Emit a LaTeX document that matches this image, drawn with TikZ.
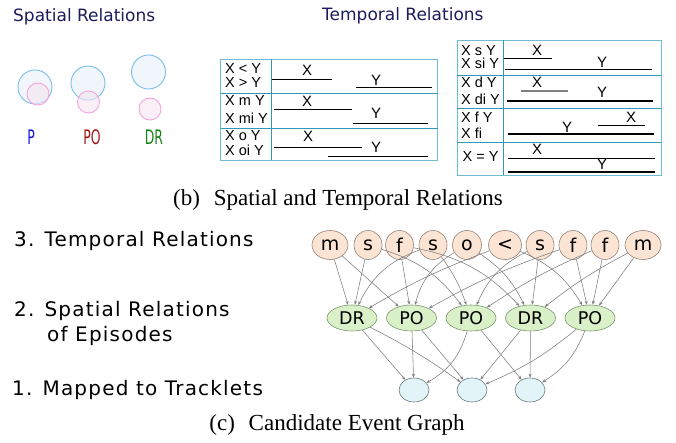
\documentclass[tikz,border=0pt]{standalone}
\usepackage{fontspec}
\usetikzlibrary{arrows.meta,shapes.geometric}
\newfontfamily\dvfont{DejaVu Sans}
\newfontfamily\dvspaced[LetterSpace=6]{DejaVu Sans}
\newfontfamily\libfont{Liberation Sans}
\newfontfamily\serffont{Liberation Serif}
\definecolor{navy}{RGB}{28,28,92}
\definecolor{bluecirc}{RGB}{120,190,235}
\definecolor{bluefill}{RGB}{240,246,251}
\definecolor{pinkcirc}{RGB}{245,165,220}
\definecolor{pinkfill}{RGB}{246,228,240}
\definecolor{tblline}{RGB}{110,190,210}
\definecolor{tbldiv}{RGB}{50,150,185}
\definecolor{peach}{RGB}{252,228,212}
\definecolor{peachline}{RGB}{150,130,120}
\definecolor{lgreen}{RGB}{218,240,200}
\definecolor{greenline}{RGB}{120,150,110}
\definecolor{lcyan}{RGB}{226,244,248}
\definecolor{cyanline}{RGB}{100,120,125}
\definecolor{edgegray}{RGB}{125,125,125}
\definecolor{prel}{RGB}{20,20,220}
\definecolor{porel}{RGB}{165,20,20}
\definecolor{drrel}{RGB}{20,130,20}
\begin{document}
\begin{tikzpicture}[x=1pt,y=1pt,
  titlestyle/.style={font=\dvfont\fontsize{17}{17}\selectfont, text=navy, inner sep=0, anchor=west},
  relstyle/.style={font=\dvfont\fontsize{20}{20}\selectfont, inner sep=0},
  bigcirc/.style={draw=bluecirc, fill=bluefill, line width=0.9pt},
  smallcirc/.style={draw=pinkcirc, fill=pinkfill, fill opacity=0.6, line width=0.9pt},
  tbox/.style={draw=tblline, line width=0.9pt},
  tdiv/.style={draw=tbldiv, line width=0.9pt},
  ttext/.style={font=\libfont\fontsize{14.5}{14.5}\selectfont, inner sep=0, anchor=west},
  tlab/.style={font=\libfont\fontsize{15}{15}\selectfont, inner sep=0},
  tline/.style={line width=1pt, black},
  tthick/.style={line width=1.5pt, black},
  capstyle/.style={font=\serffont\fontsize{23}{26}\selectfont, inner sep=0},
  sidelab/.style={font=\dvspaced\fontsize{20}{20}\selectfont, inner sep=0, anchor=west},
  topnode/.style={ellipse, draw=peachline, fill=peach, line width=0.6pt, minimum height=29, minimum width=28, inner sep=0, font=\dvfont\fontsize{19}{19}\selectfont},
  midnode/.style={ellipse, draw=greenline, fill=lgreen, line width=0.6pt, minimum height=26, minimum width=50, inner sep=0, font=\dvfont\fontsize{17.5}{17.5}\selectfont},
  botnode/.style={ellipse, draw=cyanline, fill=lcyan, line width=0.6pt, minimum height=24, minimum width=30, inner sep=0},
  edgeline/.style={draw=edgegray, line width=0.55pt, -{Stealth[length=4pt,width=3pt]}}
]
\useasboundingbox (0,0) rectangle (676,-443);

% ---- (b) Spatial relations ----
\node[titlestyle] (sptitle) at (13,-17) {Spatial Relations};
\node[titlestyle] (tptitle) at (322,-16) {Temporal Relations};

\draw[bigcirc] (35,-87) circle (17);
\draw[smallcirc] (38,-94) circle (11);
\draw[bigcirc] (88,-83) circle (17);
\draw[smallcirc] (88.5,-102) circle (11);
\draw[bigcirc] (148.5,-72) circle (17);
\draw[smallcirc] (150,-109) circle (11);

\node[relstyle, text=prel] (relP) at (31,-137) {\scalebox{0.62}[1]{P}};
\node[relstyle, text=porel] (relPO) at (92,-137) {\scalebox{0.62}[1]{PO}};
\node[relstyle, text=drrel] (relDR) at (154,-137) {\scalebox{0.62}[1]{DR}};

% ---- (b) Temporal relations, left table ----
\draw[tbox] (220.5,-59.5) rectangle (437.5,-160.5);
\draw[tdiv] (220.5,-93.5) -- (437.5,-93.5);
\draw[tdiv] (220.5,-128.5) -- (437.5,-128.5);
\draw[tdiv] (271,-59.5) -- (271,-160.5);

\node[ttext] (l1a) at (225,-69) {X < Y};
\node[ttext] (l1b) at (225,-83) {X > Y};
\draw[tline] (272,-80) -- (332,-80);
\node[tlab] (l1x) at (307,-70.5) {X};
\draw[tline] (356,-88) -- (432,-88);
\node[tlab] (l1y) at (376,-80) {Y};

\node[ttext] (l2a) at (225,-101) {X m Y};
\node[ttext] (l2b) at (225,-118) {X mi Y};
\draw[tline] (274,-110) -- (352,-110);
\node[tlab] (l2x) at (307,-101) {X};
\draw[tline] (353,-124) -- (428,-124);
\node[tlab] (l2y) at (376,-113) {Y};

\node[ttext] (l3a) at (225,-136) {X o Y};
\node[ttext] (l3b) at (225,-150) {X oi Y};
\draw[tline] (274,-148) -- (362,-148);
\node[tlab] (l3x) at (308,-136) {X};
\draw[tline] (328,-157) -- (428,-157);
\node[tlab] (l3y) at (376,-147) {Y};

% ---- right table ----
\draw[tbox] (457,-40) rectangle (661,-175);
\draw[tdiv] (457,-75) -- (661,-75);
\draw[tdiv] (457,-108.5) -- (661,-108.5);
\draw[tdiv] (457,-142) -- (661,-142);
\draw[tdiv] (503.5,-40) -- (503.5,-175);

\node[ttext] (r1a) at (461,-50.5) {X s Y};
\node[ttext] (r1b) at (461,-63.5) {X si Y};
\draw[tline] (504,-58.5) -- (552,-58.5);
\node[tlab] (r1x) at (537,-50) {X};
\draw[tthick] (505,-69.5) -- (652,-69.5);
\node[tlab] (r1y) at (602,-62) {Y};

\node[ttext] (r2a) at (461,-82.5) {X d Y};
\node[ttext] (r2b) at (461,-99) {X di Y};
\draw[line width=1.3pt, gray] (521,-91) -- (568,-91);
\node[tlab] (r2x) at (537,-82) {X};
\draw[tthick] (507,-101) -- (653,-101);
\node[tlab] (r2y) at (602,-92) {Y};

\node[ttext] (r3a) at (461,-117) {X f Y};
\node[ttext] (r3b) at (461,-133) {X fi};
\draw[tthick] (508,-134) -- (654,-134);
\node[tlab] (r3y) at (567,-127) {Y};
\draw[tline] (598,-126) -- (645,-126);
\node[tlab] (r3x) at (631,-117) {X};

\node[ttext] (r4a) at (462.5,-157) {X = Y};
\draw[tthick] (508,-158.5) -- (655,-158.5);
\node[tlab] (r4x) at (537,-149) {X};
\draw[tthick] (508,-172) -- (655,-172);
\node[tlab] (r4y) at (602,-164) {Y};

\node[capstyle] (capb) at (338,-200) {(b)\hspace{0.35em} Spatial and Temporal Relations};

% ---- (c) Candidate event graph ----
\node[sidelab] (s3lab) at (14,-241) {3. Temporal Relations};
\node[sidelab] (s2lab) at (14,-311) {2. Spatial Relations};
\node[sidelab] (s2lab2) at (47,-336) {of Episodes};
\node[sidelab] (s1lab) at (12,-390) {1. Mapped to Tracklets};

\node[topnode, minimum width=36] (m1) at (330,-245) {m};
\node[topnode] (s1) at (368,-245) {s};
\node[topnode] (f1) at (399.5,-245) {f};
\node[topnode] (s2) at (433,-245) {s};
\node[topnode, minimum width=29] (o1) at (467,-245) {o};
\node[topnode, minimum width=33] (lt) at (505,-245) {<};
\node[topnode] (s3) at (540,-245) {s};
\node[topnode] (f2) at (573,-245) {f};
\node[topnode] (f3) at (605,-245) {f};
\node[topnode, minimum width=36] (m2) at (643,-245) {m};

\node[midnode] (e1) at (352,-318) {DR};
\node[midnode] (e2) at (411.5,-318) {PO};
\node[midnode] (e3) at (471,-318) {PO};
\node[midnode] (e4) at (530.5,-318) {DR};
\node[midnode] (e5) at (590,-318) {PO};

\node[botnode] (t1) at (414,-390) {};
\node[botnode] (t2) at (472,-390) {};
\node[botnode] (t3) at (530,-390) {};

\draw[edgeline] (m1) to (e1);
\draw[edgeline] (m1) to (e2);
\draw[edgeline] (s1) to (e1);
\draw[edgeline] (s1) to[bend left=18] (e3);
\draw[edgeline] (f1) to (e2);
\draw[edgeline] (f1) to[bend left=18] (e4);
\draw[edgeline] (s2) to[bend right=22] (e1);
\draw[edgeline] (s2) to[bend left=8] (e3);
\draw[edgeline] (o1) to[bend right=22] (e2);
\draw[edgeline] (o1) to[bend left=15] (e4);
\draw[edgeline] (lt) to[bend right=5] (e1);
\draw[edgeline] (lt) to[bend left=18] (e5);
\draw[edgeline] (s3) to[bend right=20] (e3);
\draw[edgeline] (s3) to (e4);
\draw[edgeline] (f2) to[bend right=5] (e2);
\draw[edgeline] (f2) to (e5);
\draw[edgeline] (f3) to[bend right=5] (e3);
\draw[edgeline] (f3) to (e5);
\draw[edgeline] (m2) to[bend right=5] (e4);
\draw[edgeline] (m2) to (e5);

\draw[edgeline] (e1) to (t1);
\draw[edgeline] (e1) to[bend left=4] (t2);
\draw[edgeline] (e2) to (t1);
\draw[edgeline] (e2) to (t2);
\draw[edgeline] (e3) to[bend left=22] (t1);
\draw[edgeline] (e3) to (t3);
\draw[edgeline] (e4) to (t2);
\draw[edgeline] (e4) to (t3);
\draw[edgeline] (e5) to[bend left=8] (t2);
\draw[edgeline] (e5) to[bend left=18] (t3);

\node[capstyle] (capc) at (337,-425) {(c)\hspace{0.35em} Candidate Event Graph};
\end{tikzpicture}
\end{document}
